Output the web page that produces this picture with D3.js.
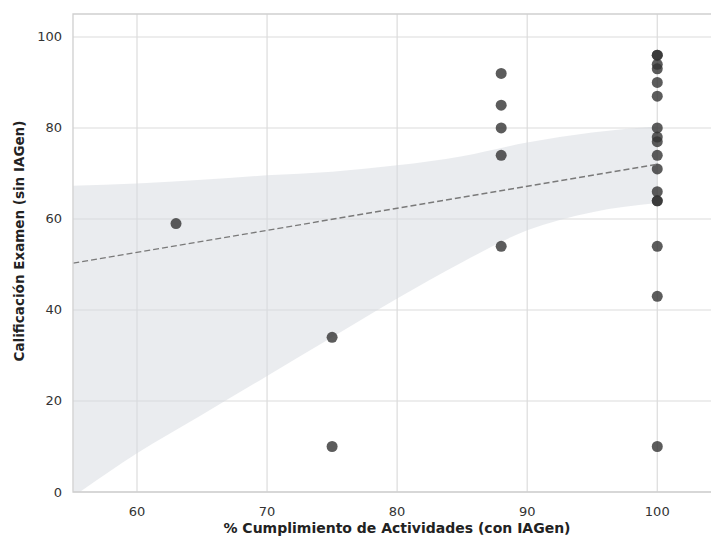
<!DOCTYPE html>
<html>
<head>
<meta charset="utf-8">
<script src="https://cdn.jsdelivr.net/npm/d3@7"></script>
<style>
  body { margin: 0; background: #fff; overflow: hidden; }
  svg { display: block; font-family: "DejaVu Sans", sans-serif; }
</style>
</head>
<body>
<svg id="chart" width="711" height="540"></svg>
<script>
// points
const cumplimiento = [63, 75, 75, 88, 88, 88, 88, 88,
  100, 100, 100, 100, 100, 100, 100, 100, 100, 100, 100, 100, 100, 100, 100, 100, 100];
const calificacion = [59, 34, 10, 92, 85, 80, 74, 54,
  96, 96, 94, 93, 90, 87, 80, 78, 77, 74, 71, 66, 64, 64, 54, 43, 10];

// fitted line and its confidence band
const fitX = [55.1, 100];
const fitY = [50.3, 72];
const bandX = [55.1, 60, 65, 70, 75, 80, 85, 90, 95, 100];
const bandLo = [-1, 8.5, 17, 25.5, 34, 42.5, 50.5, 57.5, 61.5, 63.5];
const bandHi = [67.3, 67.8, 68.6, 69.6, 70.4, 71.8, 73.8, 76.8, 79, 80.4];

const xTicks = [60, 70, 80, 90, 100];
const yTicks = [0, 20, 40, 60, 80, 100];

const svg = d3.select('#chart');
const margin = { left: 73, top: 14, right: -10, bottom: 48 };
const width = +svg.attr('width');
const height = +svg.attr('height');

const x = d3.scaleLinear()
  .domain([55.08, 104.9])
  .range([margin.left, width - margin.right]);
const y = d3.scaleLinear()
  .domain([0, 105.05])
  .range([height - margin.bottom, margin.top]);

const plot = svg.append('g');

plot.append('clipPath').attr('id', 'clip')
  .append('rect')
  .attr('x', margin.left).attr('y', margin.top)
  .attr('width', width - margin.right - margin.left)
  .attr('height', height - margin.bottom - margin.top);

// grid
plot.append('g')
  .selectAll('line')
  .data(xTicks)
  .join('line')
  .attr('x1', d => x(d)).attr('x2', d => x(d))
  .attr('y1', margin.top).attr('y2', height - margin.bottom)
  .attr('stroke', '#dcdcdc').attr('stroke-width', 1.2);
plot.append('g')
  .selectAll('line')
  .data(yTicks)
  .join('line')
  .attr('x1', margin.left).attr('x2', width + 20)
  .attr('y1', d => y(d)).attr('y2', d => y(d))
  .attr('stroke', '#dcdcdc').attr('stroke-width', 1.2);

// confidence band
const band = bandX.map((d, i) => [d, bandLo[i], bandHi[i]]);
plot.append('path')
  .datum(band)
  .attr('clip-path', 'url(#clip)')
  .attr('fill', '#d5dae0')
  .attr('fill-opacity', 0.5)
  .attr('d', d3.area()
    .curve(d3.curveMonotoneX)
    .x(d => x(d[0]))
    .y0(d => y(d[1]))
    .y1(d => y(d[2])));

// points
plot.append('g')
  .selectAll('circle')
  .data(cumplimiento)
  .join('circle')
  .attr('cx', d => x(d))
  .attr('cy', (d, i) => y(calificacion[i]))
  .attr('r', 5.5)
  .attr('fill', '#333')
  .attr('fill-opacity', 0.8);

// fit line
plot.append('path')
  .datum(fitX.map((d, i) => [d, fitY[i]]))
  .attr('fill', 'none')
  .attr('stroke', '#7a7a7a')
  .attr('stroke-width', 1.5)
  .attr('stroke-dasharray', '6,3')
  .attr('d', d3.line().x(d => x(d[0])).y(d => y(d[1])));

// spines (left, top, bottom; the right one is off the picture)
plot.append('path')
  .attr('fill', 'none')
  .attr('stroke', '#cfcfcf')
  .attr('stroke-width', 1.3)
  .attr('d', `M${width + 20},${margin.top}H${margin.left}V${height - margin.bottom}H${width + 20}`);

// tick labels
svg.append('g')
  .selectAll('text')
  .data(xTicks)
  .join('text')
  .attr('x', d => x(d))
  .attr('y', height - margin.bottom + 24)
  .attr('text-anchor', 'middle')
  .attr('font-size', 13)
  .attr('fill', '#333')
  .text(d => d);
svg.append('g')
  .selectAll('text')
  .data(yTicks)
  .join('text')
  .attr('x', margin.left - 11)
  .attr('y', d => y(d) + 4.5)
  .attr('text-anchor', 'end')
  .attr('font-size', 13)
  .attr('fill', '#333')
  .text(d => d);

// axis titles
svg.append('text')
  .attr('x', 397)
  .attr('y', 533)
  .attr('text-anchor', 'middle')
  .attr('font-size', 14)
  .attr('font-weight', 'bold')
  .attr('fill', '#222')
  .text('% Cumplimiento de Actividades (con IAGen)');
svg.append('text')
  .attr('transform', 'translate(24,241) rotate(-90)')
  .attr('text-anchor', 'middle')
  .attr('font-size', 13.5)
  .attr('font-weight', 'bold')
  .attr('fill', '#222')
  .text('Calificación Examen (sin IAGen)');
</script>
</body>
</html>
